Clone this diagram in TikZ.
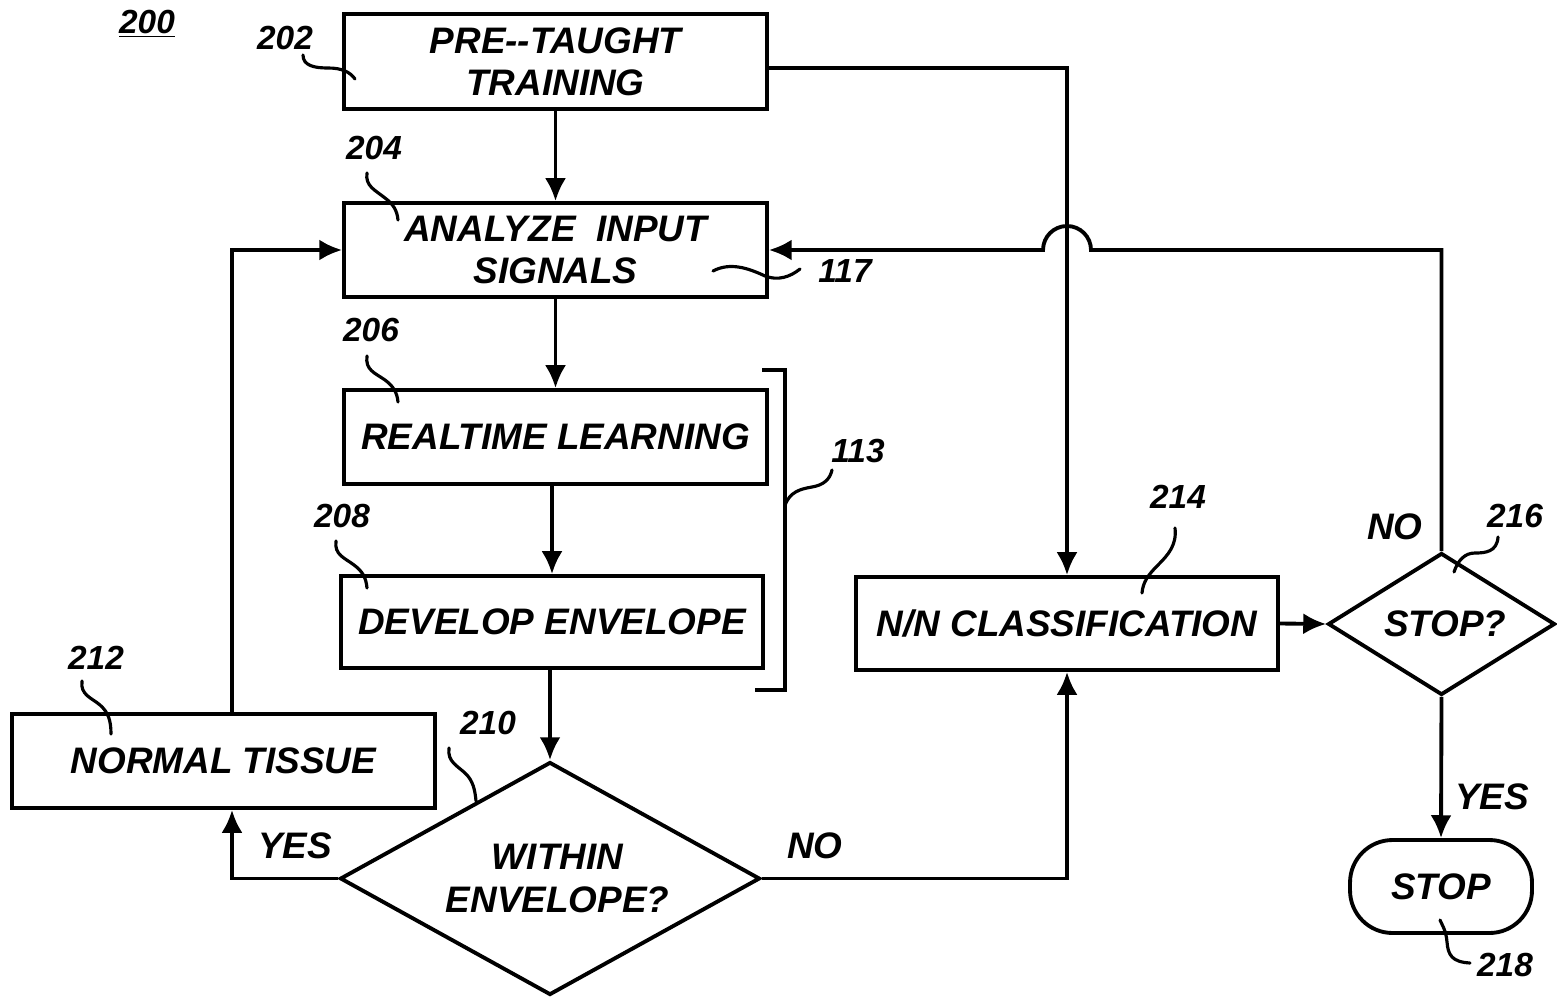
\documentclass[tikz,border=0pt]{standalone}
\usepackage{fontspec}
\setmainfont{Liberation Sans}
\usetikzlibrary{arrows.meta,shapes.geometric,calc}
\begin{document}
\begin{tikzpicture}[x=0.02cm,y=-0.02cm,
  every node/.style={font=\fontsize{21}{24}\selectfont\bfseries\itshape},
  box/.style={draw,line width=2.2pt,rectangle,inner sep=0pt,align=center},
  dia/.style={draw,line width=2.2pt,diamond,inner sep=0pt,align=center},
  num/.style={font=\fontsize{19}{22}\selectfont\bfseries\itshape,inner sep=0pt},
  lbl/.style={inner sep=0pt},
  conn/.style={line width=2.2pt},
  arr/.style={conn,-{Latex[length=13pt,width=12pt]}},
  lead/.style={line width=1.8pt,line cap=round}
]
\useasboundingbox (0,0) rectangle (1557,997);

% boxes
\node[box,minimum width=8.46cm,minimum height=1.9cm] (b202) at (555.5,61.5) {PRE-{}-TAUGHT\\TRAINING};
\node[box,minimum width=8.46cm,minimum height=1.88cm] (b204) at (555.5,250) {ANALYZE\ \ INPUT\\SIGNALS};
\node[box,minimum width=8.46cm,minimum height=1.88cm] (b206) at (555.5,437) {REALTIME LEARNING};
\node[box,minimum width=8.44cm,minimum height=1.84cm] (b208) at (552,622) {DEVELOP ENVELOPE};
\node[box,minimum width=8.46cm,minimum height=1.88cm] (b212) at (223.5,761) {NORMAL TISSUE};
\node[box,minimum width=8.44cm,minimum height=1.86cm] (b214) at (1067,623.5) {N/N CLASSIFICATION};
\node[dia,aspect=1.8,minimum width=8.4cm,minimum height=4.66cm] (d210) at (550,878.5) {\hspace*{0.3cm}WITHIN\\\hspace*{0.3cm}ENVELOPE?};
\node[dia,aspect=1.6,minimum width=4.54cm,minimum height=2.84cm] (d216) at (1441.5,624) {\hspace*{0.15cm}STOP?};
\node[box,rounded corners=0.85cm,minimum width=3.64cm,minimum height=1.86cm] (t218) at (1441,886.5) {STOP};

% reference numbers
\node[num] (n200) at (147,24) {\underline{200}};
\node[num] (n202) at (285,38) {202};
\node[num] (n204) at (374,148) {204};
\node[num] (n206) at (371,330) {206};
\node[num] (n208) at (342,516) {208};
\node[num] (n210) at (488,723) {210};
\node[num] (n212) at (96,658) {212};
\node[num] (n214) at (1178,497) {214};
\node[num] (n216) at (1515,516) {216};
\node[num] (n218) at (1505,965) {218};
\node[num] (n117) at (845,271) {117};
\node[num] (n113) at (858,451) {113};

% branch labels
\node[lbl] (yes1) at (295,846) {YES};
\node[lbl] (no1) at (815,846) {NO};
\node[lbl] (no2) at (1395,527) {NO};
\node[lbl] (yes2) at (1492,797) {YES};

% connectors
\draw[arr] (b202.south) -- (b204.north);
\draw[arr] (b204.south) -- (b206.north);
\draw[arr] (b208.north |- b206.south) -- (b208.north);
\draw[arr] (d210.north |- b208.south) -- (d210.north);
\draw[arr] (d210.west) -| ([xshift=0.17cm]b212.south);
\draw[arr] ([xshift=0.17cm]b212.north) |- (b204.west);
\draw[arr] (d210.east) -| (b214.south);
\draw[arr] ([yshift=-0.13cm]b202.east) -| (b214.north);
\draw[arr] (b214.east) -- (d216.west);
\draw[arr] (d216.north) |- ($(b214.north |- b204.east)+(0.48cm,0)$)
  arc[start angle=0,end angle=180,radius=0.48cm] -- (b204.east);
\draw[arr] (d216.south) -- (t218.north);

% bracket 113
\coordinate (brtop) at (762,370);
\coordinate (brbot) at (755,690);
\coordinate (brmid) at (785,505);
\draw[conn] (brtop) -- (785,370) -- (785,690) -- (brbot);

% leader lines
\draw[lead] (303,55) .. controls (303,66) and (315,68) .. (328,68) .. controls (342,68) and (350,72) .. (355,79);
\draw[lead] (367,173) .. controls (365,186) and (375,190) .. (385,198) .. controls (393,204) and (397,210) .. (398,220);
\draw[lead] (367,356) .. controls (365,370) and (375,373) .. (385,380) .. controls (393,386) and (397,392) .. (398,402);
\draw[lead] (336,541) .. controls (334,555) and (345,558) .. (354,565) .. controls (362,571) and (366,577) .. (367,588);
\draw[lead] (82,681) .. controls (80,695) and (92,698) .. (100,705) .. controls (108,712) and (111,720) .. (111,734);
\draw[lead] (449,748) .. controls (447,762) and (458,766) .. (466,774) .. controls (473,781) and (475,790) .. (476,801);
\draw[lead] (1175,528) .. controls (1177,545) and (1168,555) .. (1158,565) .. controls (1148,575) and (1143,582) .. (1142,593);
\draw[lead] (1498,537) .. controls (1497,552) and (1485,553) .. (1475,553) .. controls (1465,553) and (1458,560) .. (1454,572);
\draw[lead] (1470,963) .. controls (1452,962) and (1448,955) .. (1447,942) .. controls (1446,930) and (1442,925) .. (1440,920);
\draw[lead] (713,271) .. controls (730,262) and (748,268) .. (765,276) .. controls (778,281) and (790,277) .. (800,269);
\draw[lead] (brmid) .. controls (790,492) and (800,489) .. (812,487) .. controls (824,485) and (830,479) .. (832,470);
\end{tikzpicture}
\end{document}
